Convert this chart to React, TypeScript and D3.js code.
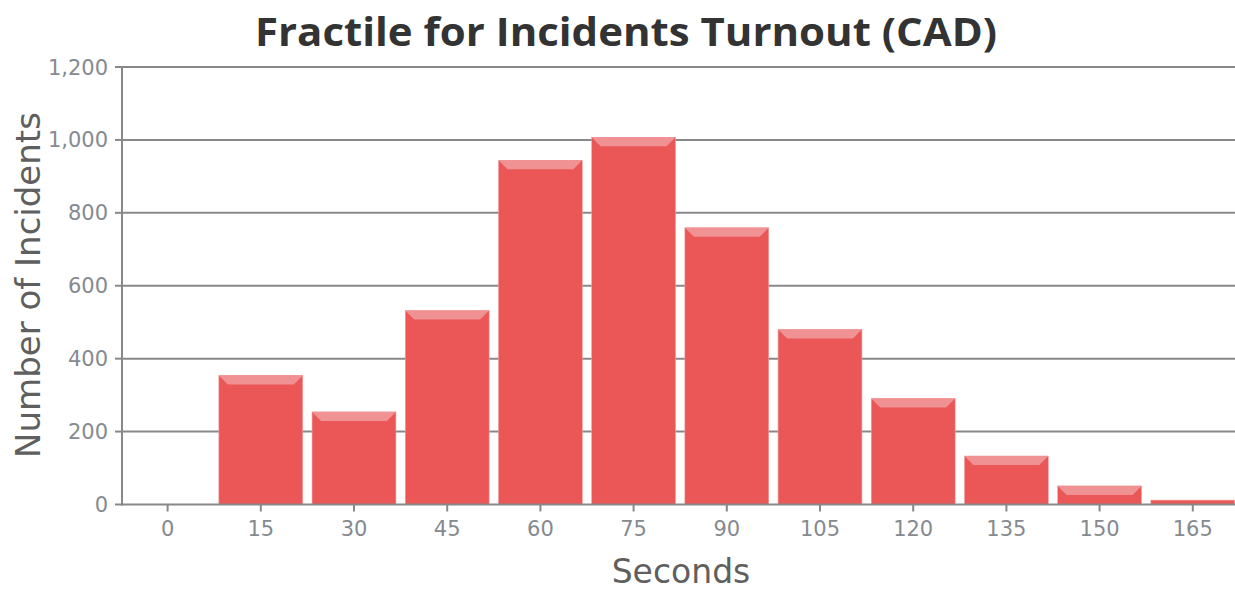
import React from 'react';
import * as d3 from 'd3';

const seconds = ['0', '15', '30', '45', '60', '75', '90', '105', '120', '135', '150', '165'];
const incidents = [0, 354, 254, 532, 944, 1007, 759, 480, 291, 133, 51, 12];
const yTicks = [0, 200, 400, 600, 800, 1000, 1200];

const W = 1235;
const H = 591;
const margin = { top: 67, left: 121, bottom: 504.5 };
const tickFont = '"DejaVu Sans", Verdana, sans-serif';

const App = () => {
  const step = 93.2;
  const x = d3
    .scaleBand<string>()
    .domain(seconds)
    .range([margin.left, margin.left + step * seconds.length])
    .paddingInner(0.1)
    .paddingOuter(0.05);
  const y = d3.scaleLinear().domain([0, 1200]).range([margin.bottom, margin.top]);
  const fmt = d3.format(',');
  const bw = x.bandwidth();

  return (
    <div style={{ position: 'absolute', left: 0, top: 0 }}>
      <svg width={W} height={H} style={{ display: 'block', fontFamily: '"Open Sans", sans-serif' }}>
        <rect width={W} height={H} fill="#fff" />
        {/* title */}
        <text x={626} y={46} textAnchor="middle" fontSize={39} fontWeight="bold" fill="#333" textLength={742} lengthAdjust="spacingAndGlyphs">
          Fractile for Incidents Turnout (CAD)
        </text>

        {/* grid + y ticks */}
        {yTicks.map(t => (
          <g key={t}>
            {t > 0 && <line x1={margin.left} x2={W} y1={y(t)} y2={y(t)} stroke="#888" strokeWidth={2} />}
            <line x1={115} x2={122} y1={y(t)} y2={y(t)} stroke="#888" strokeWidth={2} />
            <text x={108} y={y(t)} dy="0.36em" textAnchor="end" fontSize={21} fontFamily={tickFont} fill="#858a90">
              {fmt(t)}
            </text>
          </g>
        ))}

        {/* bars */}
        {seconds.map((s, i) => {
          const x0 = x(s) as number;
          const top = y(incidents[i]);
          const h = margin.bottom - top;
          if (h <= 0) return null;
          const bev = Math.min(9, h);
          return (
            <g key={s}>
              <rect x={x0} y={top} width={bw} height={h} fill="#EB5656" stroke="#F3A0A0" strokeWidth={0.6} />
              {h > 6 && (
                <polygon
                  points={`${x0},${top} ${x0 + bw},${top} ${x0 + bw - bev},${top + bev} ${x0 + bev},${top + bev}`}
                  fill="#F09294"
                />
              )}
            </g>
          );
        })}

        {/* axes */}
        <line x1={122} x2={122} y1={margin.top - 1} y2={margin.bottom + 1} stroke="#888" strokeWidth={2} />
        <line x1={margin.left} x2={W} y1={margin.bottom} y2={margin.bottom} stroke="#888" strokeWidth={2} />
        {seconds.map(s => {
          const cx = (x(s) as number) + bw / 2;
          return (
            <g key={s}>
              <line x1={cx} x2={cx} y1={margin.bottom} y2={margin.bottom + 7} stroke="#888" strokeWidth={2} />
              <text x={cx} y={536} textAnchor="middle" fontSize={21} fontFamily={tickFont} fill="#858a90">
                {s}
              </text>
            </g>
          );
        })}

        {/* axis titles */}
        <text x={681} y={583} textAnchor="middle" fontSize={33} fontFamily={tickFont} fill="#5f5f5f">
          Seconds
        </text>
        <text transform="translate(40,285) rotate(-90)" textAnchor="middle" fontSize={34} fontFamily={tickFont} fill="#5f5f5f">
          Number of Incidents
        </text>
      </svg>
    </div>
  );
};

export default App;
